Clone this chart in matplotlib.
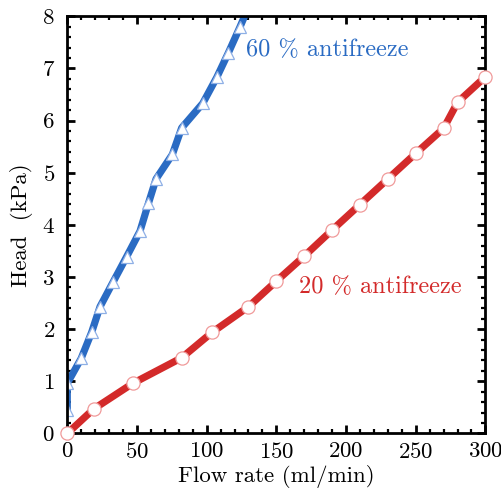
import matplotlib

matplotlib.use("Agg")
import matplotlib.pyplot as plt
from matplotlib.ticker import MultipleLocator

# 20 % antifreeze
flow_20 = [0, 19, 47, 82, 104, 130, 150, 170, 190, 210, 230, 250, 270, 280, 300]
head_20 = [0, 0.47, 0.96, 1.45, 1.94, 2.43, 2.92, 3.40, 3.90, 4.39, 4.88, 5.37, 5.85, 6.35, 6.84]

# 60 % antifreeze
flow_60 = [0, 0, 10, 17.5, 23.5, 33, 42.6, 52.2, 58.2, 63.7, 75.4, 82.1, 97.2, 107.3, 115.6, 124, 132]
head_60 = [0.45, 0.96, 1.44, 1.94, 2.43, 2.91, 3.39, 3.88, 4.41, 4.88, 5.35, 5.86, 6.33, 6.83, 7.30, 7.80, 8.3]

BLUE = "#2a6bc3"
RED = "#d32a2a"

plt.rcParams.update(
    {
        "font.family": ["cmr10", "DejaVu Serif"],
        "axes.formatter.use_mathtext": True,
        "font.size": 16.5,
        "axes.linewidth": 2.0,
        "xtick.direction": "in",
        "ytick.direction": "in",
        "xtick.top": True,
        "ytick.right": True,
        "xtick.major.size": 6,
        "ytick.major.size": 6,
        "xtick.minor.size": 3,
        "ytick.minor.size": 3,
        "xtick.major.width": 2.0,
        "ytick.major.width": 2.0,
        "xtick.minor.width": 1.6,
        "ytick.minor.width": 1.6,
        "xtick.major.pad": 6,
        "ytick.major.pad": 9,
    }
)

fig = plt.figure(figsize=(5.02, 4.92), dpi=100)
ax = fig.add_axes([0.134, 0.119, 0.833, 0.848])

ax.plot(flow_60, head_60, color=BLUE, lw=5.2, marker="^", ms=8.5,
        mfc="white", mec="#8fb0e6", mew=0.9, zorder=2)
ax.plot(flow_20, head_20, color=RED, lw=5.2, marker="o", ms=9.5,
        mfc="white", mec="#f09a9a", mew=0.9, zorder=3, clip_on=False)

ax.text(128, 7.35, "60 % antifreeze", color=BLUE, fontsize=17.5, va="center", ha="left")
ax.text(166, 2.8, "20 % antifreeze", color=RED, fontsize=17.5, va="center", ha="left")

ax.set_xlim(0, 300)
ax.set_ylim(0, 8)
ax.xaxis.set_major_locator(MultipleLocator(50))
ax.xaxis.set_minor_locator(MultipleLocator(10))
ax.yaxis.set_major_locator(MultipleLocator(1))
ax.yaxis.set_minor_locator(MultipleLocator(0.2))
ax.set_xlabel("Flow rate (ml/min)", labelpad=2)
ax.set_ylabel("Head  (kPa)", labelpad=6)

fig.savefig("out.png", dpi=100)
